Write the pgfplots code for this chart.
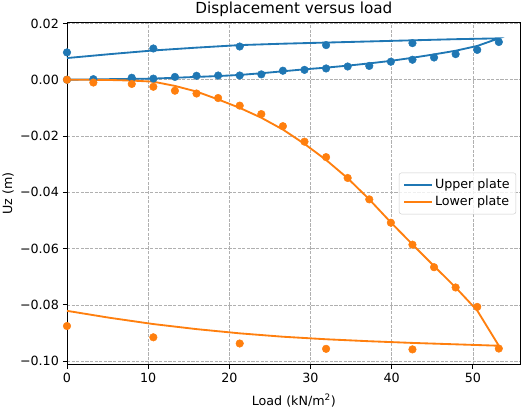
\documentclass[border=0pt]{standalone}
\usepackage{fontspec}
\setmainfont{DejaVu Sans}
\usepackage{pgfplots}
\pgfplotsset{compat=1.18}
\definecolor{mplblue}{HTML}{1F77B4}
\definecolor{mplorange}{HTML}{FF7F0E}
\definecolor{gridgray}{HTML}{B0B0B0}
\definecolor{legendgray}{HTML}{CCCCCC}
\begin{document}
\begin{tikzpicture}
\path[use as bounding box] (-58.1pt,-37.3pt) rectangle (402.5pt,316.5pt);
\begin{axis}[
  scale only axis,
  width=393.6pt, height=297.4pt,
  xmin=0, xmax=55.9,
  ymin=-0.1013, ymax=0.0205,
  font=\fontsize{11}{13}\selectfont,
  xtick={0,10,20,30,40,50},
  xticklabels={0,10,20,30,40,50},
  ytick={-0.10,-0.08,-0.06,-0.04,-0.02,0,0.02},
  yticklabels={−0.10,−0.08,−0.06,−0.04,−0.02,0.00,0.02},
  scaled y ticks=false,
  tick align=outside,
  major tick length=3.5pt,
  xtick pos=bottom, ytick pos=left,
  tick style={black, line width=0.8pt},
  axis line style={black, line width=0.8pt},
  grid=major,
  major grid style={gridgray, line width=0.6pt, dash pattern=on 2.8pt off 1.2pt},
  title={Displacement versus load},
  every axis title shift=0pt,
  title style={font=\fontsize{13.2}{15}\selectfont, at={(axis description cs:0.5,1)}, anchor=base, yshift=7.5pt},
  xlabel={Load (kN/m\textsuperscript{2})},
  xlabel style={at={(axis description cs:0.5,-0.1042)}, anchor=center},
  ylabel={Uz (m)},
  ylabel style={at={(axis description cs:-0.1296,0.5)}, anchor=center},
  legend style={at={(axis description cs:1,0.5)}, anchor=east, xshift=-4pt,
    draw=legendgray, rounded corners=2pt, fill=white, fill opacity=0.8, text opacity=1,
    font=\fontsize{11}{13}\selectfont, inner sep=3.5pt, row sep=1pt},
  legend cell align=left,
  legend image code/.code={\draw[#1] (0pt,0pt) -- (24pt,0pt);},
  legend entries={Upper plate, Lower plate},
]
\addlegendimage{mplblue, line width=1.6pt}
\addlegendimage{mplorange, line width=1.6pt}
% Upper plate line
\addplot[mplblue, line width=1.6pt, forget plot] coordinates {
 (0,0) (2.66,0.0001) (5.32,0.0002) (7.98,0.0003) (10.64,0.0004) (13.3,0.0007)
 (15.96,0.0010) (18.62,0.0013) (21.28,0.0017) (23.94,0.0023) (26.6,0.0030)
 (29.26,0.0037) (31.92,0.0043) (34.58,0.0050) (37.24,0.0058) (39.9,0.0067)
 (42.56,0.0078) (45.22,0.0090) (47.88,0.0103) (50.54,0.0120) (53.2,0.0147)
 (47.88,0.0144) (42.56,0.0140) (37.24,0.0136) (31.92,0.0132) (26.6,0.0128)
 (21.28,0.0123) (15.96,0.0114) (10.64,0.0104) (5.32,0.0091) (0,0.0077)
};
% Lower plate line
\addplot[mplorange, line width=1.6pt, forget plot] coordinates {
 (0,0) (2.66,0.0000) (5.32,-0.0001) (7.98,-0.0003) (10.64,-0.0007) (13.3,-0.0022)
 (15.96,-0.0042) (18.62,-0.0070) (21.28,-0.0100) (23.94,-0.0135) (26.6,-0.0177)
 (29.26,-0.0228) (31.92,-0.0285) (34.58,-0.0350) (37.24,-0.0425) (39.9,-0.0507)
 (42.56,-0.0585) (45.22,-0.0662) (47.88,-0.0738) (50.54,-0.0820) (53.2,-0.0945)
 (47.88,-0.0940) (42.56,-0.0935) (37.24,-0.0929) (31.92,-0.0922) (26.6,-0.0913)
 (21.28,-0.0901) (15.96,-0.0886) (10.64,-0.0868) (5.32,-0.0846) (0,-0.0821)
};
% Upper plate points
\addplot[only marks, mark=*, mark size=3.3pt, mplblue, mark options={draw=mplblue, fill=mplblue}, forget plot] coordinates {
 (0,0) (3.25,0.0002) (7.98,0.0007) (10.64,0.0004) (13.3,0.0010) (15.96,0.0014)
 (18.62,0.0015) (21.28,0.0015) (23.94,0.0019) (26.6,0.0032) (29.26,0.0035)
 (31.92,0.0040) (34.58,0.0047) (37.24,0.0049) (39.9,0.0064) (42.56,0.0071)
 (45.22,0.0079) (47.88,0.0091) (50.54,0.0106) (53.2,0.0134)
 (42.56,0.0130) (31.92,0.0123) (21.28,0.0118) (10.64,0.0111) (0,0.0097)
};
% Lower plate points
\addplot[only marks, mark=*, mark size=3.3pt, mplorange, mark options={draw=mplorange, fill=mplorange}, forget plot] coordinates {
 (0,0) (3.25,-0.0010) (7.98,-0.0015) (10.64,-0.0025) (13.3,-0.0039) (15.96,-0.0049)
 (18.62,-0.0065) (21.28,-0.0092) (23.94,-0.0122) (26.6,-0.0165) (29.26,-0.0220)
 (31.92,-0.0275) (34.58,-0.0349) (37.24,-0.0425) (39.9,-0.0508) (42.56,-0.0586)
 (45.22,-0.0666) (47.88,-0.0738) (50.54,-0.0807) (53.2,-0.0955)
 (42.56,-0.0958) (31.92,-0.0956) (21.28,-0.0937) (10.64,-0.0915) (0,-0.0875)
};
\end{axis}
\end{tikzpicture}
\end{document}
